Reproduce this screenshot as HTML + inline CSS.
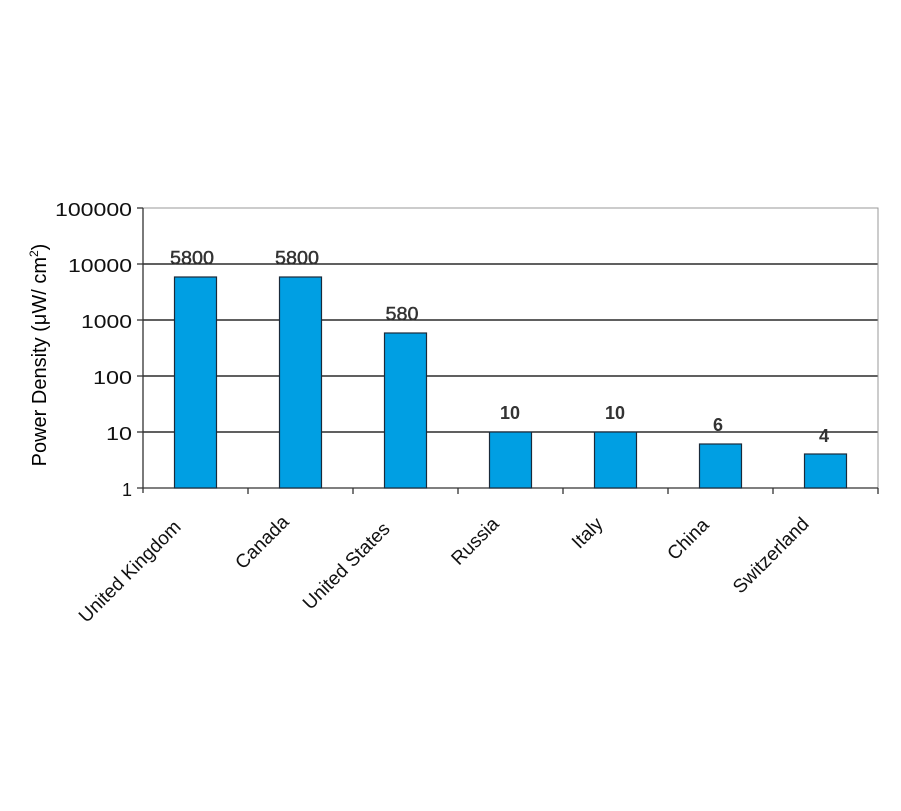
<!DOCTYPE html>
<html><head><meta charset="utf-8"><style>body{margin:0;background:#fff}svg{display:block}</style></head><body>
<svg width="901" height="811" xmlns="http://www.w3.org/2000/svg" font-family="Liberation Sans, Arial, sans-serif">
<rect width="901" height="811" fill="#fff"/>
<g stroke="#000" stroke-width="1.3">
<line x1="143" y1="264" x2="878" y2="264"/>
<line x1="143" y1="320" x2="878" y2="320"/>
<line x1="143" y1="376" x2="878" y2="376"/>
<line x1="143" y1="432" x2="878" y2="432"/>
</g>
<rect x="143" y="208" width="735" height="280" fill="none" stroke="#999" stroke-width="1"/>
<g stroke="#333" stroke-width="1.3">
<line x1="143" y1="208" x2="143" y2="493"/>
<line x1="137" y1="488" x2="878" y2="488"/>
<line x1="137" y1="208" x2="143" y2="208"/><line x1="137" y1="264" x2="143" y2="264"/><line x1="137" y1="320" x2="143" y2="320"/><line x1="137" y1="376" x2="143" y2="376"/><line x1="137" y1="432" x2="143" y2="432"/>
<line x1="248" y1="488" x2="248" y2="494"/><line x1="353" y1="488" x2="353" y2="494"/><line x1="458" y1="488" x2="458" y2="494"/><line x1="563" y1="488" x2="563" y2="494"/><line x1="668" y1="488" x2="668" y2="494"/><line x1="773" y1="488" x2="773" y2="494"/><line x1="878" y1="488" x2="878" y2="494"/>
</g>
<g fill="#009fe3" stroke="#1a2a3a" stroke-width="1.2">
<rect x="174.5" y="277" width="42" height="211"/>
<rect x="279.5" y="277" width="42" height="211"/>
<rect x="384.5" y="333" width="42" height="155"/>
<rect x="489.5" y="432" width="42" height="56"/>
<rect x="594.5" y="432" width="42" height="56"/>
<rect x="699.5" y="444" width="42" height="44"/>
<rect x="804.5" y="454" width="42" height="34"/>
</g>
<g font-size="18" text-anchor="end" fill="#111" lengthAdjust="spacingAndGlyphs">
<text x="132" y="216" textLength="77" lengthAdjust="spacingAndGlyphs">100000</text><text x="132" y="272" textLength="64" lengthAdjust="spacingAndGlyphs">10000</text><text x="132" y="328" textLength="51" lengthAdjust="spacingAndGlyphs">1000</text><text x="132" y="384" textLength="39" lengthAdjust="spacingAndGlyphs">100</text><text x="132" y="440" textLength="26" lengthAdjust="spacingAndGlyphs">10</text><text x="132" y="496">1</text>
</g>
<g font-size="18" text-anchor="middle" fill="#333" stroke="#333" stroke-width="0.4">
<text x="192" y="264" textLength="44" lengthAdjust="spacingAndGlyphs">5800</text><text x="297" y="264" textLength="44" lengthAdjust="spacingAndGlyphs">5800</text><text x="402" y="320" textLength="33" lengthAdjust="spacingAndGlyphs">580</text>
</g>
<g font-size="18" text-anchor="middle" fill="#333" font-weight="bold">
<text x="510" y="419">10</text><text x="615" y="419">10</text><text x="718" y="431">6</text><text x="824" y="442">4</text>
</g>
<text transform="translate(46,355) rotate(-90)" font-size="20" text-anchor="middle" fill="#000">Power Density (μW/ cm<tspan font-size="12" dy="-8">2</tspan><tspan dy="8">)</tspan></text>
<g font-size="19" text-anchor="end" fill="#111">
<text transform="translate(182,528) rotate(-45)">United Kingdom</text>
<text transform="translate(290,523) rotate(-45)">Canada</text>
<text transform="translate(391,530) rotate(-45)">United States</text>
<text transform="translate(500,525) rotate(-45)">Russia</text>
<text transform="translate(604,525) rotate(-45)">Italy</text>
<text transform="translate(710,526) rotate(-45)">China</text>
<text transform="translate(810,525) rotate(-45)">Switzerland</text>
</g>
</svg>
</body></html>
